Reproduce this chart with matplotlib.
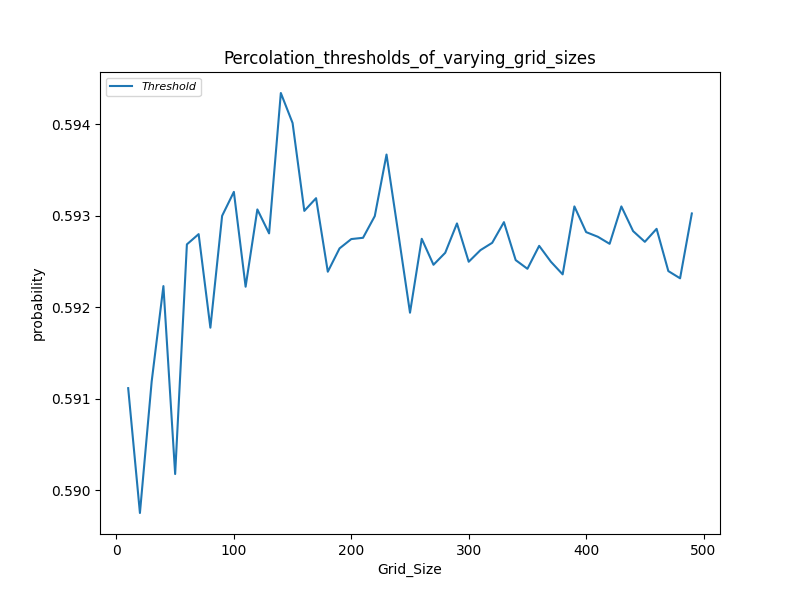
import numpy as np
import matplotlib
matplotlib.use('Agg')
import matplotlib.pyplot as plt

# grid sizes and measured percolation thresholds
grid_sizes = list(range(10, 500, 10))
thresholds = [
    0.591115, 0.589750, 0.591187, 0.592231, 0.590176, 0.592687, 0.592799,
    0.591776, 0.592999, 0.593261, 0.592224, 0.593069, 0.592807, 0.594342,
    0.594014, 0.593053, 0.593192, 0.592388, 0.592643, 0.592745, 0.592759,
    0.592996, 0.593669, 0.592810, 0.591940, 0.592748, 0.592464, 0.592595,
    0.592916, 0.592497, 0.592624, 0.592704, 0.592930, 0.592515, 0.592420,
    0.592671, 0.592497, 0.592359, 0.593102, 0.592821, 0.592770, 0.592693,
    0.593102, 0.592832, 0.592715, 0.592857, 0.592395, 0.592316, 0.593025,
]

fig, ax = plt.subplots(figsize=(8, 6), dpi=100)
ax.plot(grid_sizes, thresholds, label='Threshold')
ax.set_title('Percolation_thresholds_of_varying_grid_sizes')
ax.set_xlabel('Grid_Size')
ax.set_ylabel('probability')
ax.legend(loc='upper left', prop={'style': 'italic', 'size': 8})
fig.savefig('out.png')
